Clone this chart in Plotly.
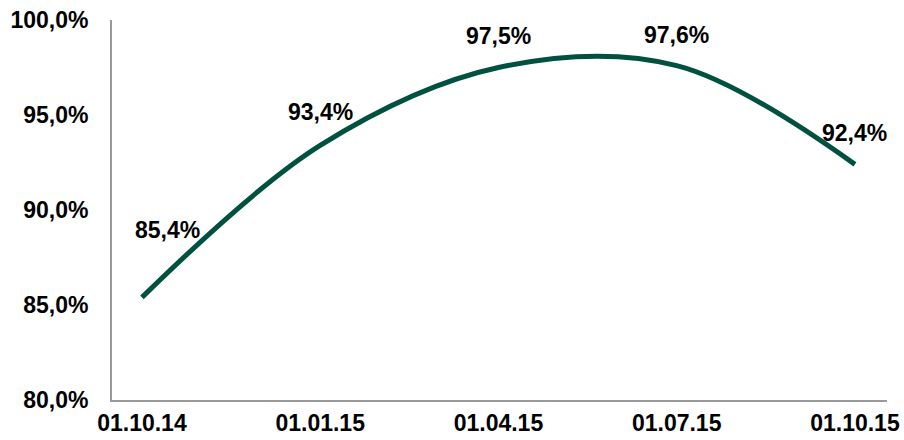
import plotly.graph_objects as go

categories = ["01.10.14", "01.01.15", "01.04.15", "01.07.15", "01.10.15"]
values = [85.4, 93.4, 97.5, 97.6, 92.4]
y_ticks = [80, 85, 90, 95, 100]
y_tick_labels = ["80,0%", "85,0%", "90,0%", "95,0%", "100,0%"]

# label offsets in pixels (style only)
label_dx = [26, 0, 0, 0, 0]
label_dy = [67, 33, 32, 31, 31]

xs = list(range(len(categories)))
FONT = "Liberation Sans, Arial, sans-serif"

fig = go.Figure()
fig.add_trace(go.Scatter(
    x=xs, y=values, mode="lines",
    line=dict(color="#00513f", width=5, shape="spline", smoothing=1),
    hoverinfo="skip", showlegend=False,
))

for i, v in enumerate(values):
    fig.add_annotation(
        x=xs[i], y=v, xref="x", yref="y",
        text=f"{v:.1f}%".replace(".", ","),
        showarrow=False, xshift=label_dx[i], yshift=label_dy[i],
        font=dict(family=FONT, size=23, color="#000000", weight="bold"),
    )

fig.update_layout(
    width=904, height=440,
    margin=dict(l=112, r=17, t=20, b=40),
    paper_bgcolor="white", plot_bgcolor="white",
    xaxis=dict(
        range=[-0.168, 4.18],
        tickvals=xs, ticktext=categories,
        showgrid=False, zeroline=False, automargin=False,
        ticklabeloverflow="allow",
        showline=True, linecolor="#999999", linewidth=2,
        ticks="outside", ticklen=1, tickcolor="rgba(0,0,0,0)",
        tickfont=dict(family=FONT, size=23, color="#000000", weight="bold"),
    ),
    yaxis=dict(
        range=[80, 100],
        tickvals=y_ticks, ticktext=y_tick_labels,
        showgrid=False, zeroline=False, automargin=False,
        ticklabeloverflow="allow",
        showline=True, linecolor="#999999", linewidth=2,
        ticks="outside", ticklen=17, tickcolor="rgba(0,0,0,0)",
        tickfont=dict(family=FONT, size=23, color="#000000", weight="bold"),
    ),
)

fig.write_html(
    "out.html",
    config={"displayModeBar": False},
    post_script="document.body.style.margin='0';document.body.style.overflow='hidden';",
)
